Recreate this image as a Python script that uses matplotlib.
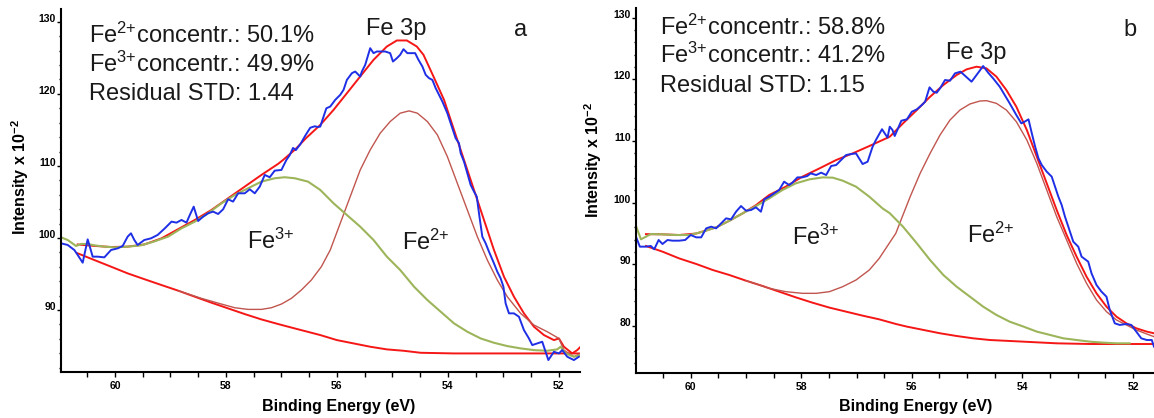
import numpy as np
import matplotlib
matplotlib.use("Agg")
import matplotlib.pyplot as plt
from matplotlib.ticker import MultipleLocator

plt.rcParams['font.family'] = ['Liberation Sans', 'DejaVu Sans']
plt.rcParams['mathtext.fontset'] = 'custom'
plt.rcParams['mathtext.rm'] = 'Liberation Sans'
plt.rcParams['mathtext.it'] = 'Liberation Sans:italic'
plt.rcParams['mathtext.bf'] = 'Liberation Sans:bold'

# --- panel a ---
a_data_e = [60.97, 60.85, 60.73, 60.67, 60.58, 60.49, 60.40, 60.31, 60.19, 60.07,
            59.95, 59.86, 59.77, 59.71, 59.65, 59.59, 59.47, 59.35, 59.23, 59.10,
            58.98, 58.89, 58.80, 58.71, 58.65, 58.58, 58.50, 58.41, 58.32, 58.23,
            58.14, 58.05, 57.96, 57.87, 57.78, 57.66, 57.57, 57.48, 57.39, 57.30,
            57.21, 57.12, 57.00, 56.91,
            56.85, 56.79, 56.74, 56.66, 56.57, 56.48, 56.40, 56.34,
            56.30, 56.24, 56.19, 56.12, 56.03, 55.94, 55.88, 55.82, 55.73, 55.67,
            55.58, 55.55, 55.49, 55.40, 55.34, 55.28, 55.22, 55.13, 55.04, 54.99,
            54.92, 54.86, 54.80, 54.73, 54.64, 54.59, 54.53, 54.46, 54.40, 54.34,
            54.28, 54.22, 54.16, 54.10, 54.01, 53.92, 53.86, 53.80, 53.77, 53.71,
            53.65, 53.59, 53.53, 53.48, 53.44, 53.38, 53.32, 53.26, 53.17, 53.11,
            53.05, 53.00, 52.96, 52.90, 52.81, 52.72, 52.63, 52.54, 52.48, 52.39,
            52.30, 52.24, 52.19, 52.09, 52.00, 51.94, 51.85, 51.73, 51.64]
a_data_i = [99.26, 99.03, 98.33, 97.64, 96.57, 99.81, 97.41, 97.41, 97.31, 98.33,
            98.56, 98.89, 100.19, 100.65, 99.72, 99.03, 99.72, 99.95, 100.42, 101.34,
            102.27, 102.13, 102.5, 102.13, 103.19, 104.35, 102.36, 102.96, 103.43, 103.66,
            103.33, 103.98, 105.37, 105.05, 106.2, 106.2, 106.76, 106.2, 107.13, 108.75,
            108.43, 109.35, 109.44, 110.83,
            111.5, 112.5, 112.2, 113.0, 114.2, 115.3, 115.5, 115.4,
            115.46, 116.85, 118.0, 118.24, 119.17, 119.86, 120.56, 121.94, 122.87, 123.1,
            122.41, 123.1, 124.03, 126.34, 125.65, 125.88, 125.88, 125.88, 125.65, 124.49,
            124.95, 125.42, 126.2, 125.65, 125.65, 125.65, 124.72, 123.8, 122.64, 122.18,
            121.94, 120.79, 119.86, 118.94, 117.32, 115.23, 113.84, 113.15, 111.76, 110.6,
            108.98, 107.36, 106.44, 105.74, 103.43, 100.19, 99.26, 98.1, 96.48, 95.32,
            94.4, 93.24, 90.93, 89.54, 89.54, 89.07, 87.22, 86.06, 85.14, 85.37,
            85.6, 84.21, 83.06, 84.21, 83.98, 84.44, 83.52, 83.06, 83.52]

a_fit_e = [60.67, 60.37, 60.07, 59.77, 59.47, 59.16, 58.56, 58.26, 57.96, 57.66,
           57.36, 57.06, 56.97, 56.75, 56.55, 56.30, 56.06, 55.82, 55.58, 55.34,
           55.10, 54.92, 54.74, 54.56, 54.44, 54.26, 54.07, 53.89, 53.71, 53.53,
           53.35, 53.17, 52.99, 52.81, 52.63, 52.45, 52.27, 52.09, 52.00, 51.91,
           51.76, 51.67, 51.61]
a_fit_i = [99.1, 98.9, 98.75, 98.8, 99.1, 99.95, 102.5, 103.89, 105.51, 107.13,
           108.75, 110.28, 110.83, 112.3, 113.9, 115.69, 117.78, 120.09, 122.41, 124.72,
           126.57, 127.41, 127.41, 126.57, 125.42, 122.41, 119.17, 115.0, 110.83, 106.67,
           102.5, 98.33, 94.63, 91.85, 89.54, 87.69, 86.53, 85.83, 86.06, 84.91,
           83.98, 84.44, 84.91]

a_bg_e = [60.67, 60.37, 60.07, 59.77, 59.46, 59.16, 58.86, 58.56, 58.26, 57.96,
          57.66, 57.36, 57.06, 56.76, 56.46, 56.30, 56.00, 55.70, 55.40, 55.10,
          54.80, 54.49, 53.89, 51.62]
a_bg_i = [97.87, 96.94, 96.02, 95.09, 94.26, 93.47, 92.69, 91.85, 91.02, 90.23,
          89.44, 88.7, 88.06, 87.45, 86.85, 86.53, 85.83, 85.37, 84.91, 84.54,
          84.35, 84.07, 83.98, 83.98]

a_fe2_e = [58.86, 58.44, 58.08, 57.84, 57.60, 57.36, 57.18, 57.00, 56.82, 56.64,
           56.46, 56.28, 56.12, 55.94, 55.76, 55.58, 55.40, 55.22, 55.04, 54.86,
           54.70, 54.55, 54.37, 54.19, 54.01, 53.83, 53.65, 53.47, 53.29, 53.11,
           52.93, 52.69, 52.45, 52.21, 52.00, 51.91, 51.73, 51.61]
a_fe2_i = [92.69, 91.62, 90.83, 90.32, 90.09, 90.09, 90.32, 90.83, 91.62, 92.78,
           94.17, 96.02, 98.33, 102.04, 105.74, 109.44, 112.22, 114.54, 116.16, 117.32,
           117.64, 117.32, 116.16, 114.31, 111.3, 107.59, 103.89, 100.19, 96.94, 94.17,
           91.85, 89.54, 87.92, 86.99, 86.06, 84.44, 83.52, 83.98]

a_fe3_e = [60.97, 60.85, 60.70, 60.61, 60.49, 60.37, 60.19, 60.01, 59.77, 59.53,
           59.30, 59.04, 58.80, 58.56, 58.32, 58.08, 57.84, 57.60, 57.36, 57.12,
           56.94, 56.76, 56.52,
           56.30, 56.06, 55.82, 55.58, 55.34, 55.10, 54.86, 54.61, 54.37, 54.13,
           53.89, 53.65, 53.41, 53.17, 52.93, 52.69, 52.45, 52.21, 52.03, 51.97,
           51.88, 51.73, 51.61]
a_fe3_i = [100.09, 99.72, 98.89, 99.17, 99.17, 98.98, 98.8, 98.7, 98.8, 98.98,
           99.49, 100.19, 101.34, 102.27, 103.43, 104.81, 105.97, 106.9, 107.82, 108.29,
           108.43, 108.29, 107.82,
           106.67, 104.81, 103.19, 101.57, 99.72, 97.41, 95.56, 93.24, 91.39, 89.77,
           88.15, 86.99, 86.06, 85.46, 85.0, 84.68, 84.44, 84.35, 84.54, 84.91,
           83.98, 83.52, 83.75]

# --- panel b ---
b_data_e = [60.99, 60.92, 60.81, 60.72, 60.66, 60.58, 60.51, 60.42, 60.33, 60.21,
            60.10, 60.0, 59.90, 59.81, 59.72, 59.63, 59.54, 59.45, 59.36, 59.27,
            59.18, 59.09, 59.0, 58.91, 58.82, 58.73, 58.67, 58.58, 58.49, 58.40,
            58.31, 58.22, 58.16, 58.07, 57.98, 57.89, 57.83, 57.73, 57.64, 57.55,
            57.46, 57.37, 57.28, 57.19, 57.10, 57.01, 56.89, 56.80, 56.71, 56.65,
            56.54, 56.44,
            56.40, 56.35, 56.31, 56.25, 56.19, 56.09, 56.0, 55.91, 55.82, 55.76,
            55.68, 55.61, 55.55, 55.49, 55.40, 55.31, 55.22, 55.12, 55.02, 54.92,
            54.83, 54.71, 54.62, 54.53, 54.41, 54.32, 54.23, 54.11, 54.02, 53.96,
            53.89, 53.83, 53.77, 53.71, 53.65, 53.56, 53.47, 53.41, 53.35, 53.29,
            53.23, 53.14, 53.08, 52.99, 52.93, 52.81, 52.75, 52.66, 52.57, 52.48,
            52.42, 52.33, 52.24, 52.12, 52.03, 51.94, 51.85, 51.75, 51.66, 51.62]
b_data_i = [94.49, 92.87, 92.87, 92.98, 92.44, 93.95, 93.3, 93.95, 93.84, 93.84,
            93.95, 94.76, 94.38, 94.38, 95.84, 96.11, 95.84, 96.65, 97.46, 97.3,
            98.54, 99.46, 98.71, 98.81, 99.25, 98.54, 100.54, 100.97, 101.52, 102.06,
            103.41, 102.87, 103.25, 104.11, 104.11, 104.33, 104.76, 104.49, 104.87, 104.49,
            105.95, 106.11, 106.92, 107.73, 107.89, 108.0, 106.27, 106.65, 109.08, 110.17,
            111.92, 110.56,
            112.33, 111.79, 110.82, 112.06, 113.3, 113.52, 114.76, 115.14, 115.84, 116.38,
            118.71, 118.0, 117.84, 118.55, 119.9, 119.79, 120.98, 121.25, 120.44, 119.63,
            120.71, 122.17, 121.09, 120.17, 118.81, 117.46, 116.11, 114.22, 112.87, 113.14,
            113.52, 111.25, 109.09, 107.2, 106.11, 105.03, 104.22, 102.6, 100.98, 99.63,
            97.73, 95.3, 93.68, 92.87, 91.25, 90.44, 88.54, 86.65, 85.57, 84.76,
            82.6, 80.44, 80.17, 80.33, 80.17, 79.08, 78.0, 77.73, 77.73, 76.65]

b_fit_e = [60.81, 60.51, 60.21, 59.90, 59.54, 59.30, 59.06, 58.82, 58.58, 58.28,
           57.98, 57.67, 57.37, 57.07, 56.77, 56.53, 56.40, 56.16, 55.91, 55.67,
           55.43, 55.19, 55.01, 54.83, 54.65, 54.47, 54.29, 54.11, 53.92, 53.74,
           53.56, 53.38, 53.20, 53.02, 52.84, 52.66, 52.48, 52.30, 52.12, 51.94,
           51.75, 51.62]
b_fit_i = [94.9, 94.87, 94.76, 95.0, 96.0, 97.08, 98.27, 99.6, 101.25, 102.6,
           104.22, 105.57, 106.92, 108.0, 109.19, 110.17, 110.7, 112.87, 115.03, 117.19,
           119.09, 120.71, 121.63, 122.06, 121.79, 120.44, 118.27, 115.57, 111.79, 107.46,
           103.14, 98.81, 94.76, 91.25, 88.0, 85.3, 83.14, 81.52, 80.44, 79.63,
           79.09, 78.82]

b_bg_e = [60.81, 60.51, 60.21, 59.90, 59.60, 59.30, 59.00, 58.70, 58.40, 58.10,
          57.80, 57.49, 57.19, 56.89, 56.59, 56.29, 56.09, 55.79, 55.49, 55.19,
          54.89, 54.59, 53.98, 53.38, 52.78, 51.62]
b_bg_i = [92.98, 92.06, 90.97, 90.06, 89.08, 88.27, 87.35, 86.49, 85.57, 84.65,
          83.79, 82.98, 82.33, 81.68, 81.08, 80.33, 79.9, 79.36, 78.82, 78.38,
          78.0, 77.73, 77.46, 77.19, 77.08, 77.08]

b_fe2_e = [59.00, 58.88, 58.58, 58.28, 57.98, 57.73, 57.49, 57.25, 57.01, 56.77,
           56.59, 56.41, 56.29, 56.22, 56.03, 55.85, 55.67, 55.49, 55.31, 55.13,
           54.95, 54.77, 54.65, 54.47, 54.29, 54.11, 53.92, 53.74, 53.56, 53.38,
           53.20, 53.02, 52.84, 52.66, 52.48, 52.30, 52.12, 51.94, 51.75, 51.62]
b_fe2_i = [87.35, 87.03, 86.11, 85.57, 85.3, 85.3, 85.57, 86.38, 87.46, 89.08,
           90.97, 93.41, 95.03, 96.65, 100.98, 104.76, 108.0, 110.98, 113.41, 115.03,
           116.01, 116.49, 116.55, 116.11, 115.03, 113.14, 110.17, 106.38, 102.06, 97.73,
           93.95, 90.17, 86.92, 84.22, 82.33, 80.98, 80.17, 79.36, 78.7, 78.27]

b_fe3_e = [60.99, 60.90, 60.72, 60.51, 60.27, 60.02, 59.78, 59.54, 59.30, 59.06,
           58.82, 58.58, 58.34, 58.10, 57.85, 57.61, 57.43, 57.25, 57.01, 56.77,
           56.53,
           56.40, 56.16, 55.91, 55.67, 55.43, 55.19, 54.95, 54.71, 54.47, 54.23,
           53.98, 53.74, 53.50, 53.26, 53.02, 52.78, 52.54, 52.30, 52.06]
b_fe3_i = [96.22, 94.06, 94.92, 94.87, 94.76, 94.76, 95.3, 96.0, 97.08, 98.27,
           99.46, 100.71, 102.06, 103.14, 103.79, 104.11, 104.06, 103.57, 102.6, 100.98,
           99.08,
           98.3, 96.11, 93.41, 90.7, 88.27, 86.38, 84.76, 83.14, 81.79, 80.7,
           79.9, 79.09, 78.55, 78.0, 77.73, 77.46, 77.3, 77.19, 77.19]

a_lines = ["Fe$^{2{+}}$concentr.: 50.1%", "Fe$^{3{+}}$concentr.: 49.9%", "Residual STD: 1.44"]
b_lines = ["Fe$^{2{+}}$concentr.: 58.8%", "Fe$^{3{+}}$concentr.: 41.2%", "Residual STD: 1.15"]

BLUE = "#1f2fe6"
RED = "#f51616"
BROWN = "#c0564f"
GREEN = "#9db55a"
TXT = "#1a1a1a"

fig = plt.figure(figsize=(11.54, 4.18), dpi=100)
ax_a = fig.add_axes([0.0529, 0.110, 0.4497, 0.868])
ax_b = fig.add_axes([0.5511, 0.1077, 0.4489, 0.873])


def draw_panel(ax, d, fit, bg, fe2, fe3, xlim, ylim, yt):
    ax.plot(bg[0], bg[1], color=RED, lw=1.4)
    ax.plot(fit[0], fit[1], color=RED, lw=1.4)
    ax.plot(fe2[0], fe2[1], color=BROWN, lw=1.0)
    ax.plot(fe3[0], fe3[1], color=GREEN, lw=1.5)
    ax.plot(d[0], d[1], color=BLUE, lw=1.4)
    ax.set_xlim(*xlim)
    ax.set_ylim(*ylim)
    for s in ["top", "right"]:
        ax.spines[s].set_visible(False)
    for s in ["left", "bottom"]:
        ax.spines[s].set_linewidth(1.5)
    ax.set_xticks([60, 58, 56, 54, 52], labels=["60", "58", "56", "54", "52"],
                  fontweight="bold", fontsize=7.5)
    ax.xaxis.set_minor_locator(MultipleLocator(0.5))
    ax.set_yticks(yt, labels=[str(v) for v in yt], fontweight="bold",
                  fontsize=7.5, va="baseline")
    ax.yaxis.set_minor_locator(MultipleLocator(2))
    ax.tick_params(axis="x", which="both", direction="out", length=3.6, width=1.0, pad=3)
    ax.tick_params(axis="y", which="major", direction="out", length=3.2, width=1.0, pad=0.5)
    ax.tick_params(axis="y", which="minor", direction="out", length=1.8, width=1.0)
    ax.set_xlabel("Binding Energy (eV)", fontsize=11.5, fontweight="bold")
    ax.set_ylabel(r"Intensity x 10$^{\mathbf{-2}}$", fontsize=11.5, fontweight="bold")


draw_panel(ax_a, (a_data_e, a_data_i), (a_fit_e, a_fit_i), (a_bg_e, a_bg_i),
           (a_fe2_e, a_fe2_i), (a_fe3_e, a_fe3_i), (60.97, 51.62), (81.4, 131.75),
           [90, 100, 110, 120, 130])
draw_panel(ax_b, (b_data_e, b_data_i), (b_fit_e, b_fit_i), (b_bg_e, b_bg_i),
           (b_fe2_e, b_fe2_i), (b_fe3_e, b_fe3_i), (60.99, 51.62), (72.38, 131.57),
           [80, 90, 100, 110, 120, 130])

ax_a.xaxis.set_label_coords(0.534, -0.074)
ax_a.yaxis.set_label_coords(-0.057, 0.537)
ax_b.xaxis.set_label_coords(0.539, -0.071)
ax_b.yaxis.set_label_coords(-0.062, 0.584)

fs = 17
for y, s in zip([127.1, 123.1, 119.2], a_lines):
    ax_a.text(60.46, y, s, fontsize=fs, color=TXT, va="baseline", ha="left")
ax_a.text(54.94, 128.14, "Fe 3p", fontsize=fs, color=TXT, va="baseline", ha="center")
ax_a.text(52.69, 128.0, "a", fontsize=fs, color=TXT, va="baseline", ha="center")
ax_a.text(57.62, 98.42, "Fe$^{3{+}}$", fontsize=fs, color=TXT, va="baseline", ha="left")
ax_a.text(54.82, 98.32, "Fe$^{2{+}}$", fontsize=fs, color=TXT, va="baseline", ha="left")

for y, s in zip([127.19, 122.6, 118.0], b_lines):
    ax_b.text(60.555, y, s, fontsize=fs, color=TXT, va="baseline", ha="left")
ax_b.text(54.84, 123.25, "Fe 3p", fontsize=fs, color=TXT, va="baseline", ha="center")
ax_b.text(52.06, 127.0, "b", fontsize=fs, color=TXT, va="baseline", ha="center")
ax_b.text(58.16, 93.14, "Fe$^{3{+}}$", fontsize=fs, color=TXT, va="baseline", ha="left")
ax_b.text(55.0, 93.4, "Fe$^{2{+}}$", fontsize=fs, color=TXT, va="baseline", ha="left")

fig.savefig("out.png", dpi=100)
